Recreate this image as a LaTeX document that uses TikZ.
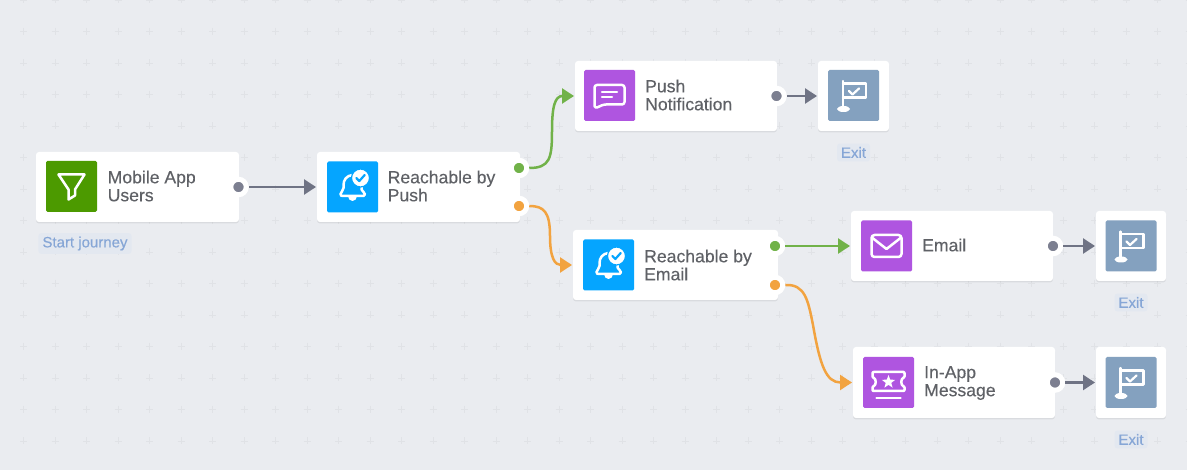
\documentclass[tikz,border=0pt]{standalone}
\usepackage{fontspec}
\setmainfont{Liberation Sans}
\newfontfamily\titlefont[FakeBold=0.25]{Liberation Sans}
\usetikzlibrary{arrows.meta,shadows}
\definecolor{bgc}{HTML}{EAECF0}
\definecolor{plusc}{HTML}{E0E2E6}
\definecolor{txtc}{HTML}{5F6166}
\definecolor{tagc}{HTML}{86A6D6}
\definecolor{tagbg}{HTML}{E3E8F0}
\definecolor{greyc}{HTML}{7C7F90}
\definecolor{linec}{HTML}{6F7384}
\definecolor{greenc}{HTML}{71B249}
\definecolor{orangec}{HTML}{F2A340}
\definecolor{funnelc}{HTML}{4C9A00}
\definecolor{bluec}{HTML}{05A5FF}
\definecolor{purplec}{HTML}{AF55E0}
\definecolor{flagc}{HTML}{84A1BF}
\tikzset{
  x=1pt,y=-1pt,
  plusmark/.style={draw=plusc,line width=.7pt},
  card/.style={fill=white,rounded corners=3pt,inner sep=0pt,outer sep=0pt,
    drop shadow={shadow xshift=0pt,shadow yshift=-1.5pt,opacity=.07,fill=black}},
  iconbox/.style={rounded corners=1.5pt,inner sep=0pt,outer sep=0pt,minimum width=51pt,minimum height=51pt},
  title/.style={anchor=west,align=left,inner sep=0pt,text=txtc,font=\titlefont\fontsize{17.6}{18}\selectfont},
  tag/.style={fill=tagbg,rounded corners=3pt,text=tagc,inner xsep=4pt,inner ysep=3.5pt,font=\titlefont\fontsize{15}{15}\selectfont},
  dotb/.style={circle,draw=white,line width=5pt,minimum size=15.5pt,inner sep=0pt,fill=#1},
  conn/.style={draw=#1,line width=2.5pt,shorten >=1pt,-{Triangle[length=12pt,width=15pt,color=#1]}},
  ico/.style={draw=white,line width=2.5pt,line join=round,line cap=round},
  funnel/.pic={\draw[ico] (-13,-12)--(13,-12)--(3.5,3)--(3.5,9)--(-3,13)--(-3,3)--cycle;},
  bell/.pic={
    \draw[ico] (0,-12) .. controls (-6,-11.5) and (-9,-7) .. (-9,-2) -- (-9,1) .. controls (-9,4) and (-12,5) .. (-12,7) .. controls (-12,8.5) and (-11,9) .. (-10,9) -- (11,9) .. controls (13,9) and (13,6) .. (11,5) .. controls (9,4) and (9,2) .. (9,0);
    \fill[white] (-4.5,9) arc[start angle=180,end angle=360,radius=4.5pt,y radius=5pt] -- cycle;
    \fill[white,draw=bluec,line width=1.2pt] (8,-9) circle[radius=9pt];
    \draw[bluec,line width=2.2pt,line cap=round,line join=round] (3.8,-9) -- (6.8,-6) -- (12.2,-12);
  },
  chat/.pic={
    \draw[ico,rounded corners=2.5pt] (-15,-10.5) -- (15,-10.5) -- (15,9) -- (-6,9) -- (-14.5,13) -- (-15,9) -- cycle;
    \draw[ico] (-7.5,-3.5) -- (7.5,-3.5) (-7.5,1.5) -- (2.5,1.5);
  },
  flag/.pic={
    \draw[ico,line width=2.2pt] (-10.5,-14.5) -- (-10.5,12);
    \draw[ico,line width=2.2pt] (-10.5,-12) -- (12.5,-12) -- (12.5,2) -- (-10.5,2);
    \fill[white] (-10,13.5) ellipse[x radius=6.5pt,y radius=3pt];
    \draw[ico,line width=2.2pt] (-4.5,-4.5) -- (-1,-1) -- (5.5,-7);
  },
  mail/.pic={
    \draw[ico,rounded corners=3pt] (-15,-11) rectangle (15,11);
    \draw[ico] (-14,-8) -- (0,3) -- (14,-8);
  },
  ticket/.pic={
    \draw[ico,rounded corners=1pt] (-16,-10.5) -- (16,-10.5) -- (16,-5) .. controls (12,-4) and (12,3) .. (16,4) -- (16,8.5) -- (-16,8.5) -- (-16,4) .. controls (-12,3) and (-12,-4) .. (-16,-5) -- cycle;
    \fill[white,line join=round] (0,-7.5) -- (1.7,-2.85) -- (6.66,-2.66) -- (2.76,.4) -- (4.11,5.16) -- (0,2.4) -- (-4.11,5.16) -- (-2.76,.4) -- (-6.66,-2.66) -- (-1.7,-2.85) -- cycle;
    \draw[ico] (-12,15.5) -- (12,15.5);
  },
}
\begin{document}
\begin{tikzpicture}
\path[use as bounding box,fill=bgc] (0,0) rectangle (1187,470);
\foreach \i in {0,...,37}\foreach \j in {0,...,14}{
  \draw[plusmark] ({23.5+31.5*\i-3.5},{31.5*\j}) -- ++(7,0) ({23.5+31.5*\i},{31.5*\j-3.5}) -- ++(0,7);
}
% cards
\node[card,minimum width=203pt,minimum height=70pt] (mobile) at (137.5,187) {};
\node[card,minimum width=203pt,minimum height=70pt] (push) at (418.5,187) {};
\node[card,minimum width=202pt,minimum height=70pt] (notif) at (676,96) {};
\node[card,minimum width=71pt,minimum height=70pt] (exita) at (853.5,96) {};
\node[card,minimum width=205pt,minimum height=70pt] (reach) at (675.5,265) {};
\node[card,minimum width=202pt,minimum height=70pt] (email) at (952,246) {};
\node[card,minimum width=70pt,minimum height=70pt] (exitb) at (1131,246) {};
\node[card,minimum width=202pt,minimum height=71pt] (inapp) at (954,382.5) {};
\node[card,minimum width=70pt,minimum height=71pt] (exitc) at (1131,382.5) {};
% icon tiles
\node[iconbox,fill=funnelc] (imobile) at (71.5,186.5) {};
\node[iconbox,fill=bluec] (ipush) at (352.5,187) {};
\node[iconbox,fill=purplec] (inotif) at (609.5,95.5) {};
\node[iconbox,fill=flagc] (iexita) at (853.5,95.5) {};
\node[iconbox,fill=bluec] (ireach) at (608.5,265) {};
\node[iconbox,fill=purplec] (iemail) at (886.5,246) {};
\node[iconbox,fill=flagc] (iexitb) at (1131,246) {};
\node[iconbox,fill=purplec] (iinapp) at (888.5,382.5) {};
\node[iconbox,fill=flagc] (iexitc) at (1131,382.5) {};
\pic at (imobile) {funnel};
\pic at (ipush) {bell};
\pic at (inotif) {chat};
\pic at (iexita) {flag};
\pic at (ireach) {bell};
\pic at (iemail) {mail};
\pic at (iexitb) {flag};
\pic at (iinapp) {ticket};
\pic at (iexitc) {flag};
% titles
\node[title] (tmobile) at (107.5,186) {Mobile App\\Users};
\node[title] (tpush) at (387.5,186) {Reachable by\\Push};
\node[title] (tnotif) at (645,95) {Push\\Notification};
\node[title] (treach) at (644,265) {Reachable by\\Email};
\node[title] (temail) at (922,245) {Email};
\node[title] (tinapp) at (924,383) {In-App\\Message};
% tags
\node[tag] (lstart) at (85,243.5) {Start journey};
\node[tag] (lexita) at (853.5,152.5) {Exit};
\node[tag] (lexitb) at (1131,302.5) {Exit};
\node[tag] (lexitc) at (1131,439.5) {Exit};
% ports
\node[dotb=greyc] (pmobile) at (238.5,187) {};
\node[dotb=greenc] (pg1) at (519,168) {};
\node[dotb=orangec] (po1) at (519,206) {};
\node[dotb=greyc] (pnotif) at (776.5,96) {};
\node[dotb=greenc] (pg2) at (775,246) {};
\node[dotb=orangec] (po2) at (775,285) {};
\node[dotb=greyc] (pemail) at (1053,246) {};
\node[dotb=greyc] (pinapp) at (1055,382.5) {};
% connectors
\draw[conn=linec] (pmobile.east) -- (push.west);
\draw[conn=linec] (pnotif.east) -- (exita.west);
\draw[conn=linec] (pemail.east) -- (exitb.west);
\draw[conn=linec] (pinapp.east) -- (exitc.west);
\draw[conn=greenc] (pg2.east) -- (email.west);
\coordinate (mg) at (552,131);
\coordinate (mo) at (550,236);
\coordinate (mp) at (813,325);
\draw[conn=greenc] (pg1.east) .. controls (550,168) and (552,158) .. (mg) .. controls (552,106) and (555,96) .. (notif.west);
\draw[conn=orangec] (po1.east) .. controls (544,206) and (550,212) .. (mo) .. controls (550,258) and (555,265) .. (reach.west);
\draw[conn=orangec] (po2.east) .. controls (805,284) and (808,300) .. (mp) .. controls (820,365) and (826,382.5) .. (inapp.west);
\end{tikzpicture}
\end{document}
